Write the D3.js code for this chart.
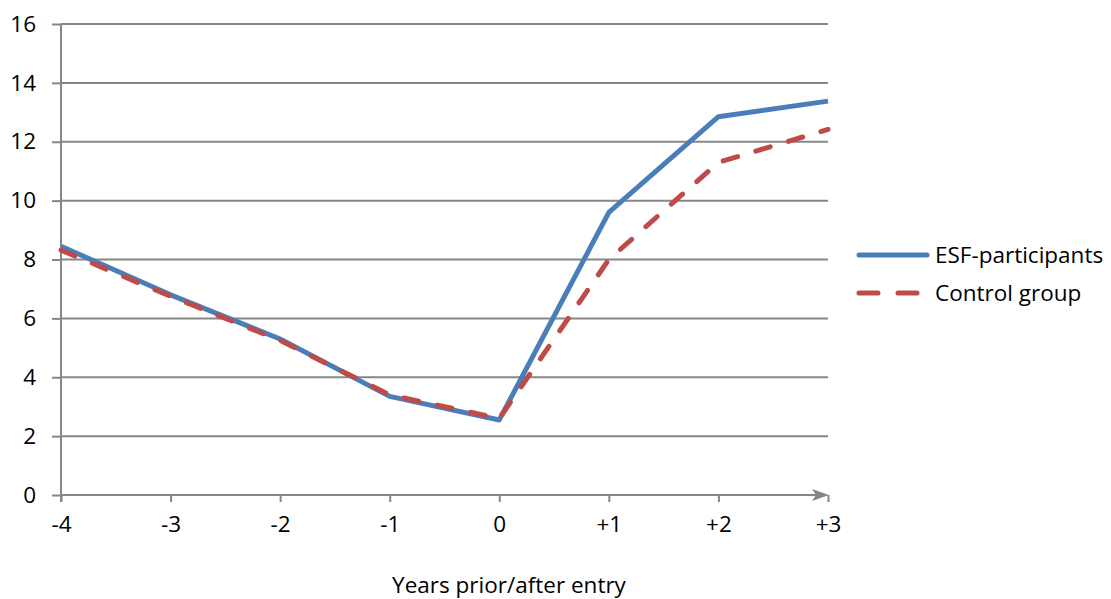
<!DOCTYPE html>
<html>
<head>
<meta charset="utf-8">
<script src="https://cdn.jsdelivr.net/npm/d3@7"></script>
<style>
  html, body { margin: 0; padding: 0; background: #fff; }
  svg { display: block; font-family: "Open Sans", "Noto Sans", sans-serif; }
</style>
</head>
<body>
<svg id="chart" width="1111" height="599"></svg>
<script>
// Years relative to programme entry
const years = [-4, -3, -2, -1, 0, 1, 2, 3];
const yearLabels = ["-4", "-3", "-2", "-1", "0", "+1", "+2", "+3"];
// Series values
const esfParticipants = [8.45, 6.8, 5.3, 3.35, 2.55, 9.6, 12.85, 13.38];
const controlGroup = [8.32, 6.75, 5.25, 3.4, 2.6, 8.0, 11.3, 12.42];
const yTicks = [0, 2, 4, 6, 8, 10, 12, 14, 16];

const svg = d3.select("#chart");
const margin = { left: 61, right: 283, top: 24, bottom: 104 };
const W = 1111, H = 599;
const fontSize = 22.5;
const fontFamily = "'Open Sans', 'Noto Sans', sans-serif";

const x = d3.scaleLinear().domain([-4, 3]).range([margin.left, W - margin.right]);
const y = d3.scaleLinear().domain([0, 16]).range([H - margin.bottom, margin.top]);

const gridColor = "#868686";

// Horizontal gridlines with small outside ticks
const yAxis = d3.axisLeft(y).tickValues(yTicks).tickSize(9).tickPadding(16);
const gy = svg.append("g").attr("transform", `translate(${margin.left},0)`).call(yAxis);
gy.select(".domain").remove();
gy.selectAll(".tick line").attr("stroke", gridColor).attr("stroke-width", 2);
gy.selectAll(".tick text").attr("font-size", fontSize).attr("fill", "#000")
  .attr("font-family", fontFamily);

svg.append("g").selectAll("line").data(yTicks.filter(d => d > 0)).join("line")
  .attr("x1", margin.left).attr("x2", x(3))
  .attr("y1", d => y(d)).attr("y2", d => y(d))
  .attr("stroke", gridColor).attr("stroke-width", 2);

// Vertical axis line
svg.append("line").attr("x1", margin.left).attr("x2", margin.left)
  .attr("y1", y(16)).attr("y2", y(0) + 7)
  .attr("stroke", gridColor).attr("stroke-width", 2);

// X axis with arrow head
const xAxis = d3.axisBottom(x).tickValues(years).tickSize(7).tickPadding(14)
  .tickFormat((d, i) => yearLabels[i]);
const gx = svg.append("g").attr("transform", `translate(0,${y(0)})`).call(xAxis);
gx.select(".domain").remove();
gx.selectAll(".tick line").attr("stroke", gridColor).attr("stroke-width", 2);
gx.selectAll(".tick text").attr("font-size", fontSize).attr("fill", "#000")
  .attr("font-family", fontFamily);

svg.append("line").attr("x1", margin.left).attr("x2", x(3) - 6)
  .attr("y1", y(0)).attr("y2", y(0))
  .attr("stroke", gridColor).attr("stroke-width", 2);
svg.append("path")
  .attr("d", `M${x(3) + 1},${y(0)} L${x(3) - 16},${y(0) - 6} L${x(3) - 12},${y(0)} L${x(3) - 16},${y(0) + 6} Z`)
  .attr("fill", gridColor);

// Axis title
svg.append("text").attr("x", 509).attr("y", 593).attr("text-anchor", "middle")
  .attr("font-size", fontSize).attr("fill", "#000").text("Years prior/after entry");

// Series lines
const line = d3.line().x((d, i) => x(years[i])).y(d => y(d));

svg.append("path").datum(esfParticipants).attr("d", line)
  .attr("fill", "none").attr("stroke", "#4a7ebb").attr("stroke-width", 5)
  .attr("stroke-linejoin", "round");

svg.append("path").datum(controlGroup).attr("d", line)
  .attr("fill", "none").attr("stroke", "#be4b48").attr("stroke-width", 5)
  .attr("stroke-dasharray", "15 19").attr("stroke-linecap", "round")
  .attr("stroke-linejoin", "round");

// Legend
const legend = svg.append("g");
legend.append("line").attr("x1", 859).attr("x2", 927).attr("y1", 255).attr("y2", 255)
  .attr("stroke", "#4a7ebb").attr("stroke-width", 5).attr("stroke-linecap", "round");
legend.append("text").attr("x", 935).attr("y", 263).attr("font-size", fontSize)
  .attr("fill", "#000").text("ESF-participants");
legend.append("line").attr("x1", 859).attr("x2", 927).attr("y1", 293).attr("y2", 293)
  .attr("stroke", "#be4b48").attr("stroke-width", 5).attr("stroke-linecap", "round")
  .attr("stroke-dasharray", "19 20");
legend.append("text").attr("x", 935).attr("y", 301).attr("font-size", fontSize)
  .attr("fill", "#000").text("Control group");
</script>
</body>
</html>
